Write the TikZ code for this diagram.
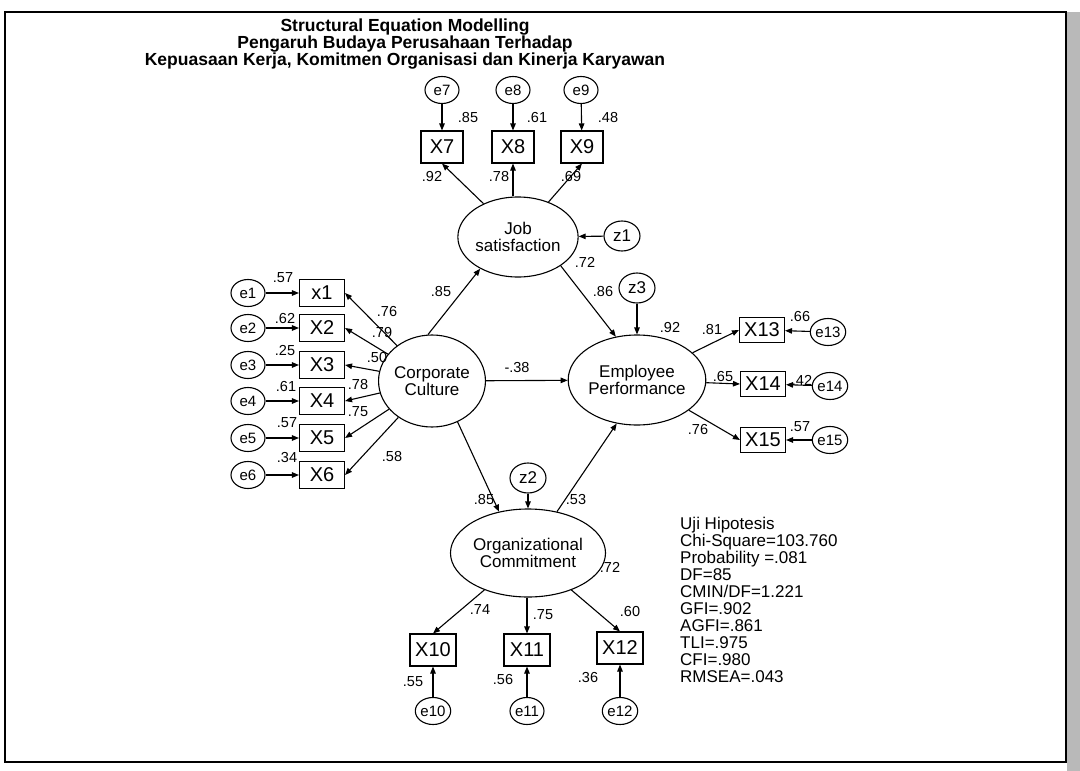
\documentclass[tikz,border=0pt]{standalone}
\usepackage{fontspec}
\setmainfont{Liberation Sans}
\usetikzlibrary{arrows.meta,shapes.geometric}
\begin{document}
\begin{tikzpicture}[x=1pt,y=-1pt,
  obs/.style={draw,rectangle,inner sep=0pt,line width=1.1pt,font=\fontsize{20}{20}\selectfont},
  obsv/.style={obs,minimum width=42pt,minimum height=32pt},
  obsl/.style={obs,minimum width=45pt,minimum height=27pt},
  obsr/.style={obs,minimum width=45pt,minimum height=25pt},
  err/.style={draw,ellipse,inner sep=0pt,line width=1.1pt,minimum width=34pt,minimum height=27pt,font=\fontsize{15}{15}\selectfont},
  dist/.style={err,minimum width=36pt,minimum height=30pt,font=\fontsize{17}{17}\selectfont},
  lat/.style={draw,ellipse,inner sep=0pt,line width=1.1pt,align=center,font=\fontsize{17}{17}\selectfont},
  lbl/.style={inner sep=0pt,font=\fontsize{14.5}{15}\selectfont},
  arr/.style={-{Triangle[length=7pt,width=5.5pt]},line width=1.1pt}]
\useasboundingbox (0,0) rectangle (1080,771);
\fill[white] (0,0) rectangle (1080,771);
% frame
\fill[gray!55] (1067,12) rectangle (1080,771);
\draw[line width=1.6pt] (5,12) rectangle (1066,762);
% title
\node[font=\bfseries\fontsize{17.5}{15}\selectfont,align=center] (title) at (405,44)
  {Structural Equation Modelling\\Pengaruh Budaya Perusahaan Terhadap\\Kepuasaan Kerja, Komitmen Organisasi dan Kinerja Karyawan};
% latent variables
\node[lat,minimum width=108pt,minimum height=80pt] (js) at (518,237) {Job\\satisfaction};
\node[lat,minimum width=99pt,minimum height=92pt] (cc) at (432,381) {Corporate\\Culture};
\node[lat,minimum width=120pt,minimum height=90pt] (ep) at (637,380) {Employee\\Performance};
\node[lat,minimum width=122pt,minimum height=88pt] (oc) at (528,553) {Organizational\\Commitment};
% disturbances
\node[dist] (z1) at (622,236) {z1};
\node[dist] (z3) at (637,288) {z3};
\node[dist] (z2) at (528,478) {z2};
% top indicators
\node[err] (e7) at (442,90) {e7};
\node[err] (e8) at (513,90) {e8};
\node[err] (e9) at (581,90) {e9};
\node[obsv] (x7) at (442,147) {X7};
\node[obsv] (x8) at (513,147) {X8};
\node[obsv] (x9) at (582,147) {X9};
% left indicators
\foreach \i/\y/\t in {1/293/x1,2/328/X2,3/365/X3,4/401/X4,5/438/X5,6/475/X6}{
  \node[err] (e\i) at (248,\y) {e\i};
  \node[obsl] (x\i) at (322,\y) {\t};
  \draw[arr] (e\i) -- (x\i);
  \draw[arr] (cc) -- (x\i.east);
}
% right indicators
\node[obsr] (x13) at (762,330) {X13};
\node[obsr] (x14) at (763,384) {X14};
\node[obsr] (x15) at (763,440) {X15};
\node[err] (e13) at (828,332) {e13};
\node[err] (e14) at (830,386) {e14};
\node[err] (e15) at (830,440) {e15};
% bottom indicators
\node[obsv,minimum width=46pt] (x10) at (433,650) {X10};
\node[obsv,minimum width=46pt] (x11) at (527,650) {X11};
\node[obsv,minimum width=46pt] (x12) at (620,648) {X12};
\node[err] (e10) at (433,711) {e10};
\node[err] (e11) at (527,711) {e11};
\node[err] (e12) at (620,711) {e12};
% arrows
\draw[arr] (e7) -- (x7);
\draw[arr] (e8) -- (x8);
\draw[arr] (e9) -- (x9);
\draw[arr] (js) -- (x7.south);
\draw[arr] (js.north -| x8.south) -- (x8.south);
\draw[arr] (js) -- (x9.south);
\draw[arr] (z1) -- (js);
\draw[arr] (cc.95) -- (js.220);
\draw[arr] (js.-34) -- (ep.116);
\draw[arr] (z3) -- (ep);
\draw[arr] (cc) -- (ep);
\draw[arr] (cc.-58) -- (oc.125);
\draw[arr] (z2) -- (oc);
\draw[arr] (oc.55) -- (ep.245);
\draw[arr] (ep) -- (x13.west);
\draw[arr] (ep) -- (x14.west);
\draw[arr] (ep) -- (x15.west);
\draw[arr] (e13) -- (x13);
\draw[arr] (e14) -- (x14);
\draw[arr] (e15) -- (x15);
\draw[arr] (oc) -- (x10.north);
\draw[arr] (oc.south -| x11.north) -- (x11.north);
\draw[arr] (oc) -- (x12.north);
\draw[arr] (e10) -- (x10);
\draw[arr] (e11) -- (x11);
\draw[arr] (e12) -- (x12);
% labels
\node[lbl] (l85t) at (468,118) {.85};
\node[lbl] (l61t) at (537,118) {.61};
\node[lbl] (l48t) at (608,118) {.48};
\node[lbl] (l92t) at (432,177) {.92};
\node[lbl] (l78t) at (499,177) {.78};
\node[lbl] (l69t) at (571,177) {.69};
\node[lbl] (l57a) at (283,278) {.57};
\node[lbl] (l62) at (285,319) {.62};
\node[lbl] (l25) at (285,351) {.25};
\node[lbl] (l61) at (286,387) {.61};
\node[lbl] (l57b) at (287,423) {.57};
\node[lbl] (l34) at (287,458) {.34};
\node[lbl] (l76) at (387,312) {.76};
\node[lbl] (l79) at (382,333) {.79};
\node[lbl] (l50) at (377,358) {.50};
\node[lbl] (l78) at (358,385) {.78};
\node[lbl] (l75) at (358,412) {.75};
\node[lbl] (l58) at (392,457) {.58};
\node[lbl] (l85a) at (441,292) {.85};
\node[lbl] (l38) at (517,368) {-.38};
\node[lbl] (l72a) at (585,262) {.72};
\node[lbl] (l86) at (603,292) {.86};
\node[lbl] (l92) at (670,328) {.92};
\node[lbl] (l81) at (712,330) {.81};
\node[lbl] (l65) at (723,377) {.65};
\node[lbl] (l76b) at (698,430) {.76};
\node[lbl] (l66) at (800,317) {.66};
\node[lbl] (l42) at (802,380) {.42};
\node[lbl] (l57c) at (800,427) {.57};
\node[lbl] (l85b) at (484,500) {.85};
\node[lbl] (l53) at (576,500) {.53};
\node[lbl] (l72b) at (610,567) {.72};
\node[lbl] (l74) at (480,610) {.74};
\node[lbl] (l75b) at (543,615) {.75};
\node[lbl] (l60) at (630,612) {.60};
\node[lbl] (l55) at (413,682) {.55};
\node[lbl] (l56) at (503,680) {.56};
\node[lbl] (l36) at (588,678) {.36};
% fit statistics
\node[anchor=north west,align=left,inner sep=0pt,font=\fontsize{17}{17}\selectfont] (fit) at (680,517)
  {Uji Hipotesis\\Chi-Square=103.760\\Probability =.081\\DF=85\\CMIN/DF=1.221\\GFI=.902\\AGFI=.861\\TLI=.975\\CFI=.980\\RMSEA=.043};
\end{tikzpicture}
\end{document}
